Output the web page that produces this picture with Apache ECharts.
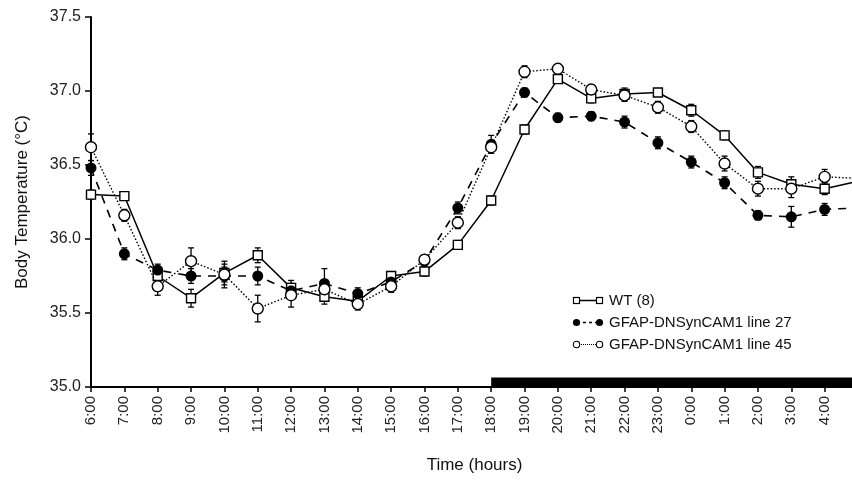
<!DOCTYPE html>
<html>
<head>
<meta charset="utf-8">
<script src="https://cdn.jsdelivr.net/npm/echarts@6/dist/echarts.min.js"></script>
<style>
  html, body { margin: 0; padding: 0; background: #fff; overflow: hidden; }
  #wrap { width: 852px; height: 480px; overflow: hidden; }
  /* the plot runs past the right edge of the picture, as in the original figure */
  #chart { width: 872px; height: 480px; }
</style>
</head>
<body>
<div id="wrap"><div id="chart"></div></div>
<script>
// hourly clock times along the x axis
var hours = ['6:00', '7:00', '8:00', '9:00', '10:00', '11:00', '12:00', '13:00', '14:00', '15:00',
	'16:00', '17:00', '18:00', '19:00', '20:00', '21:00', '22:00', '23:00', '0:00', '1:00',
	'2:00', '3:00', '4:00', '5:00'];

// mean body temperature (°C)
var wtValues = [36.30, 36.29, 35.75, 35.60, 35.77, 35.89, 35.67, 35.61, 35.58, 35.75, 35.78, 35.96,
	36.26, 36.74, 37.08, 36.95, 36.98, 36.99, 36.87, 36.70, 36.45, 36.37, 36.34, 36.39];
var line27Values = [36.48, 35.90, 35.79, 35.75, 35.75, 35.75, 35.65, 35.70, 35.63, 35.71, 35.85, 36.21,
	36.64, 36.99, 36.82, 36.83, 36.79, 36.65, 36.52, 36.38, 36.16, 36.15, 36.20, 36.21];
var line45Values = [36.62, 36.16, 35.68, 35.85, 35.76, 35.53, 35.62, 35.66, 35.56, 35.68, 35.86, 36.11,
	36.62, 37.13, 37.15, 37.01, 36.97, 36.89, 36.76, 36.51, 36.34, 36.34, 36.42, 36.41];

// SEM
var wtErr = [0.03, 0.02, 0.04, 0.06, 0.06, 0.05, 0.05, 0.05, 0.03, 0.03, 0.03, 0.03,
	0.03, 0.03, 0.02, 0.03, 0.04, 0.02, 0.04, 0.03, 0.04, 0.05, 0.04, 0.04];
var line27Err = [0.05, 0.04, 0.04, 0.05, 0.06, 0.06, 0.04, 0.10, 0.04, 0.03, 0.03, 0.04,
	0.06, 0.03, 0.03, 0.03, 0.04, 0.04, 0.04, 0.04, 0.03, 0.07, 0.04, 0.04];
var line45Err = [0.09, 0.04, 0.06, 0.09, 0.09, 0.09, 0.08, 0.04, 0.04, 0.04, 0.03, 0.04,
	0.04, 0.04, 0.03, 0.03, 0.04, 0.04, 0.04, 0.05, 0.05, 0.06, 0.05, 0.05];

// dark phase (black bar on the time axis)
var darkStart = '18:00';
var darkEnd = '5:00';

var yTicks = [35.0, 35.5, 36.0, 36.5, 37.0, 37.5];

var FONT = '"Liberation Sans", Arial, sans-serif';

function svgIcon(body)
{
	var svg = '<svg xmlns="http://www.w3.org/2000/svg" width="32" height="10" viewBox="0 0 32 10">' + body + '</svg>';
	return 'image://data:image/svg+xml;charset=utf-8,' + encodeURIComponent(svg);
}

var wtIcon = svgIcon('<line x1="5" y1="5" x2="27" y2="5" stroke="#000" stroke-width="1.3"/>'
	+ '<rect x="1.5" y="2" width="6" height="6" fill="#fff" stroke="#000" stroke-width="1.2"/>'
	+ '<rect x="24.5" y="2" width="6" height="6" fill="#fff" stroke="#000" stroke-width="1.2"/>');
var l27Icon = svgIcon('<line x1="5" y1="5" x2="27" y2="5" stroke="#000" stroke-width="1.3" stroke-dasharray="3 3"/>'
	+ '<circle cx="4.5" cy="5" r="3.6" fill="#000"/>'
	+ '<circle cx="27.5" cy="5" r="3.6" fill="#000"/>');
var l45Icon = svgIcon('<line x1="5" y1="5" x2="27" y2="5" stroke="#000" stroke-width="1.2" stroke-dasharray="1 1"/>'
	+ '<circle cx="4.5" cy="5" r="3.2" fill="#fff" stroke="#000" stroke-width="1.1"/>'
	+ '<circle cx="27.5" cy="5" r="3.2" fill="#fff" stroke="#000" stroke-width="1.1"/>');

function errorBars(values, errs)
{
	var data = [];
	for(var i=0; i<values.length; i++)
		data.push([i, values[i], errs[i]]);

	return {
		type: 'custom',
		z: 1,
		silent: true,
		data: data,
		renderItem: function(params, api)
		{
			var idx = api.value(0);
			var v = api.value(1);
			var e = api.value(2);
			var top = api.coord([idx, v + e]);
			var bottom = api.coord([idx, v - e]);
			var style = { stroke: '#000', lineWidth: 1.3 };
			return {
				type: 'group',
				children: [
					{ type: 'line', shape: { x1: top[0], y1: top[1], x2: bottom[0], y2: bottom[1] }, style: style },
					{ type: 'line', shape: { x1: top[0] - 3, y1: top[1], x2: top[0] + 3, y2: top[1] }, style: style },
					{ type: 'line', shape: { x1: bottom[0] - 3, y1: bottom[1], x2: bottom[0] + 3, y2: bottom[1] }, style: style }
				]
			};
		}
	};
}

var chart = echarts.init(document.getElementById('chart'));

var option = {
	backgroundColor: '#fff',
	animation: false,
	grid: { left: 91, right: 14, top: 17, bottom: 93 },
	legend: {
		orient: 'vertical',
		left: 567,
		top: 288,
		itemWidth: 32,
		itemHeight: 10,
		itemGap: 7,
		textStyle: { fontFamily: FONT, fontSize: 15, color: '#111' },
		data: [
			{ name: 'WT (8)', icon: wtIcon },
			{ name: 'GFAP-DNSynCAM1 line 27', icon: l27Icon },
			{ name: 'GFAP-DNSynCAM1 line 45', icon: l45Icon }
		]
	},
	xAxis: {
		type: 'category',
		data: hours,
		boundaryGap: false,
		name: 'Time (hours)',
		nameLocation: 'middle',
		nameGap: 70,
		nameTextStyle: { fontFamily: FONT, fontSize: 17, color: '#111' },
		axisLine: { lineStyle: { color: '#000', width: 2 } },
		axisTick: { show: true, length: 5, lineStyle: { color: '#000', width: 1.5 } },
		axisLabel: {
			rotate: 90,
			interval: 0,
			margin: 9,
			fontFamily: FONT,
			fontSize: 15,
			color: '#222'
		},
		splitLine: { show: false }
	},
	yAxis: {
		type: 'value',
		min: yTicks[0],
		max: yTicks[yTicks.length - 1],
		interval: 0.5,
		name: 'Body Temperature (°C)',
		nameLocation: 'middle',
		nameGap: 60,
		nameTextStyle: { fontFamily: FONT, fontSize: 17, color: '#111' },
		axisLine: { show: true, lineStyle: { color: '#000', width: 2 } },
		axisTick: { show: true, length: 6, lineStyle: { color: '#000', width: 1.5 } },
		axisLabel: {
			margin: 10,
			fontFamily: FONT,
			fontSize: 16,
			color: '#222',
			formatter: function(v) { return v.toFixed(1); }
		},
		splitLine: { show: false }
	},
	series: [
		{
			name: 'WT (8)',
			type: 'line',
			data: wtValues,
			z: 3,
			symbol: 'rect',
			symbolSize: 9,
			showAllSymbol: true,
			lineStyle: { color: '#000', width: 1.5, type: 'solid' },
			itemStyle: { color: '#fff', borderColor: '#000', borderWidth: 1.4 },
			markArea: {
				silent: true,
				itemStyle: { color: '#000' },
				data: [[{ coord: [darkStart, yTicks[0]] }, { coord: [darkEnd, yTicks[0] + 0.065] }]]
			}
		},
		{
			name: 'GFAP-DNSynCAM1 line 27',
			type: 'line',
			data: line27Values,
			z: 4,
			symbol: 'circle',
			symbolSize: 11,
			showAllSymbol: true,
			lineStyle: { color: '#000', width: 1.6, type: [8, 7] },
			itemStyle: { color: '#000', borderColor: '#000', borderWidth: 0 }
		},
		{
			name: 'GFAP-DNSynCAM1 line 45',
			type: 'line',
			data: line45Values,
			z: 5,
			symbol: 'circle',
			symbolSize: 11,
			showAllSymbol: true,
			lineStyle: { color: '#000', width: 1.4, type: [1.5, 2] },
			itemStyle: { color: '#fff', borderColor: '#000', borderWidth: 1.4 }
		},
		errorBars(wtValues, wtErr),
		errorBars(line27Values, line27Err),
		errorBars(line45Values, line45Err)
	]
};

chart.setOption(option);
</script>
</body>
</html>
